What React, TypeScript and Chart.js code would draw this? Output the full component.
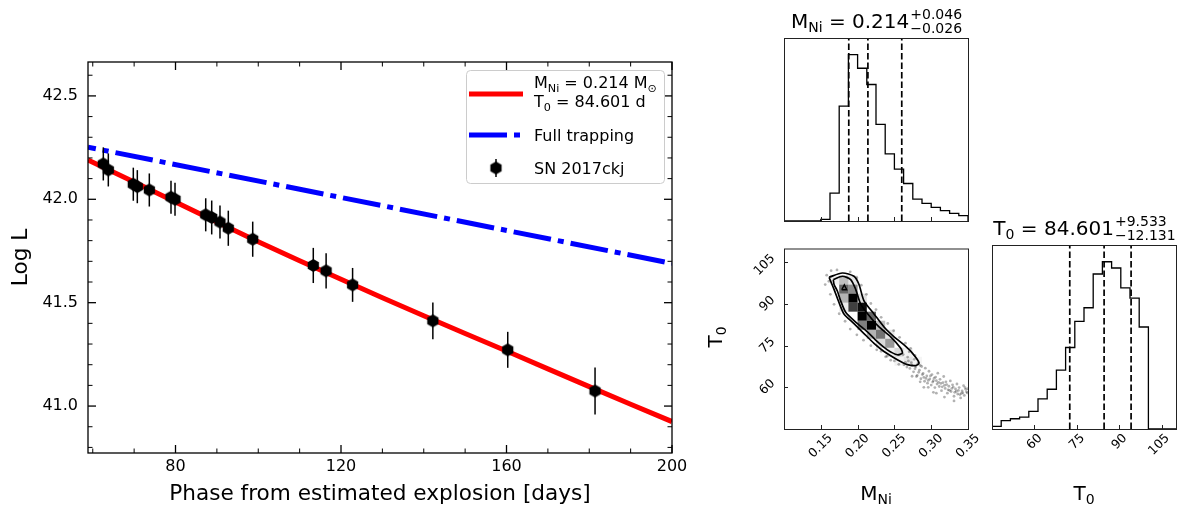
import React, { useEffect, useRef } from "react";
import { Chart, registerables } from "chart.js";

Chart.register(...registerables);

const FONT = "'DejaVu Sans', sans-serif";

/* ---------------- light curve (left panel) ---------------- */
const phaseDays = [62.55, 63.76, 69.8, 70.77, 73.67, 78.91, 79.88, 87.3, 88.75, 90.75, 92.76, 98.66, 113.3, 116.4, 122.8, 142.2, 160.3, 181.4];
const logL = [42.171, 42.142, 42.073, 42.061, 42.045, 42.01, 42.0, 41.925, 41.912, 41.89, 41.86, 41.807, 41.68, 41.654, 41.586, 41.412, 41.272, 41.073];
const logLErr = [0.08, 0.08, 0.08, 0.08, 0.08, 0.08, 0.08, 0.08, 0.082, 0.08, 0.085, 0.085, 0.085, 0.085, 0.082, 0.089, 0.087, 0.114];
const modelPhase = [58.85, 70, 80, 90, 100, 110, 120, 130, 140, 150, 160, 170, 180, 190, 200];
const modelLogL = [42.19, 42.084, 41.987, 41.89, 41.795, 41.703, 41.613, 41.524, 41.437, 41.351, 41.266, 41.18, 41.094, 41.009, 40.925];
const trapPhase = [58.85, 130, 200];
const trapLogL = [42.252, 41.969, 41.69];
const phaseTicks = [80, 120, 160, 200];
const phaseMinorTicks = [60, 70, 90, 100, 110, 130, 140, 150, 170, 180, 190];
const logLTicks = [41.0, 41.5, 42.0, 42.5];
const logLMinorTicks = [40.8, 40.9, 41.1, 41.2, 41.3, 41.4, 41.6, 41.7, 41.8, 41.9, 42.1, 42.2, 42.3, 42.4, 42.6];
const fitMassText = "0.214";
const fitT0Text = "84.601";
const trapLabel = "Full trapping";
const snLabel = "SN 2017ckj";

/* ---------------- corner plot ---------------- */
const mniBinEdges = [0.1, 0.1125, 0.125, 0.1375, 0.15, 0.1625, 0.175, 0.1875, 0.2, 0.2125, 0.225, 0.2375, 0.25, 0.2625, 0.275, 0.2875, 0.3, 0.3125, 0.325, 0.3375, 0.35];
const mniCounts = [0, 0, 0, 0, 5, 84, 346, 501, 460, 411, 291, 202, 156, 113, 66, 53, 41, 31, 23, 16];
const t0BinEdges = [45, 48.25, 51.5, 54.75, 58, 61.25, 64.5, 67.75, 71, 74.25, 77.5, 80.75, 84, 87.25, 90.5, 93.75, 97, 100.25, 103.5, 106.75, 110];
const t0Counts = [8, 25, 31, 36, 53, 91, 120, 178, 246, 325, 366, 468, 505, 486, 426, 395, 308, 0, 0, 0];
const mniQuantiles = [0.188, 0.214, 0.26];
const t0Quantiles = [72.47, 84.601, 94.134];
const mniTicks = [0.15, 0.2, 0.25, 0.3, 0.35];
const t0Ticks = [60, 75, 90, 105];
const mniTitleParts = ["0.214", "+0.046", "\u22120.026"];
const t0TitleParts = ["84.601", "+9.533", "\u221212.131"];

const densityM = [0.16875, 0.18125, 0.19375, 0.18125, 0.19375, 0.18125, 0.19375, 0.20625, 0.18125, 0.19375, 0.20625, 0.20625, 0.21875, 0.20625, 0.21875, 0.23125, 0.21875, 0.23125, 0.24375, 0.23125, 0.24375, 0.24375, 0.25625, 0.26875, 0.25625, 0.26875, 0.28125];
const densityT = [98.625, 98.625, 98.625, 95.375, 95.375, 92.125, 92.125, 92.125, 88.875, 88.875, 88.875, 85.625, 85.625, 82.375, 82.375, 82.375, 79.125, 79.125, 79.125, 75.875, 75.875, 72.625, 72.625, 72.625, 69.375, 69.375, 69.375];
const densityLevel = [0.06, 0.25, 0.1, 0.6, 0.45, 0.3, 1, 0.12, 0.08, 0.75, 0.95, 1, 0.6, 0.5, 1, 0.25, 0.3, 0.55, 0.1, 0.15, 0.4, 0.06, 0.15, 0.05, 0.05, 0.1, 0.04];

const outerM = [0.1612, 0.1793, 0.1951, 0.2019, 0.2087, 0.2223, 0.2359, 0.2495, 0.2631, 0.2744, 0.2835, 0.2789, 0.2676, 0.254, 0.2359, 0.2223, 0.2087, 0.1951, 0.1815, 0.1747, 0.168, 0.1634, 0.1612];
const outerT = [99.64, 101.17, 100.0, 97.05, 91.16, 86.45, 81.74, 78.21, 75.26, 72.32, 68.79, 67.85, 68.2, 69.97, 72.91, 75.85, 79.38, 82.92, 86.45, 90.57, 95.28, 98.23, 99.64];
const innerM = [0.167, 0.1793, 0.1906, 0.1974, 0.2042, 0.2155, 0.2291, 0.245, 0.2586, 0.2608, 0.254, 0.2404, 0.2268, 0.2133, 0.1974, 0.1838, 0.177, 0.1725, 0.168, 0.167];
const innerT = [98.81, 100.0, 98.81, 95.28, 89.98, 85.86, 81.74, 78.21, 74.09, 72.32, 71.73, 73.5, 76.44, 79.97, 83.51, 87.04, 91.16, 94.69, 97.05, 98.81];
const coreM = [0.1784, 0.182, 0.1852, 0.1784];
const coreT = [95.16, 96.93, 95.16, 95.16];

const sampleM = [0.262, 0.265, 0.268, 0.271, 0.273, 0.276, 0.277, 0.279, 0.281, 0.282, 0.284, 0.286, 0.287, 0.289, 0.291, 0.292, 0.294, 0.295, 0.297, 0.298, 0.3, 0.301, 0.303, 0.305, 0.306, 0.308, 0.309, 0.311, 0.312, 0.314, 0.316, 0.317, 0.319, 0.321, 0.322, 0.324, 0.326, 0.327, 0.329, 0.331, 0.333, 0.335, 0.336, 0.338, 0.34, 0.342, 0.344, 0.345, 0.347, 0.349, 0.331, 0.318, 0.303, 0.29, 0.25, 0.256, 0.24, 0.232, 0.27, 0.278, 0.158, 0.161, 0.156, 0.164, 0.172, 0.19, 0.199, 0.205, 0.212, 0.218, 0.225, 0.232, 0.241, 0.249, 0.257, 0.265, 0.272, 0.163, 0.168, 0.175, 0.183, 0.19, 0.199, 0.208, 0.218, 0.226, 0.238, 0.245,
  0.263, 0.267, 0.269, 0.274, 0.278, 0.28, 0.283, 0.285, 0.288, 0.29, 0.293, 0.296, 0.299, 0.302, 0.304, 0.307, 0.31, 0.313, 0.315, 0.318, 0.32, 0.323, 0.325, 0.328, 0.33, 0.332, 0.334, 0.337, 0.339, 0.341, 0.343, 0.346, 0.348, 0.35, 0.296, 0.307, 0.285, 0.274];
const sampleT = [71.8, 69.0, 70.9, 66.8, 68.9, 65.6, 70.1, 67.4, 64.3, 68.6, 66.2, 63.1, 67.5, 65.0, 62.2, 66.9, 64.1, 61.5, 65.8, 63.0, 60.8, 64.6, 62.4, 59.9, 63.7, 61.2, 65.1, 60.3, 62.9, 58.8, 61.7, 63.9, 59.6, 61.0, 57.9, 60.4, 62.3, 58.5, 60.9, 56.8, 59.4, 61.2, 57.6, 59.9, 56.2, 58.7, 60.6, 57.1, 59.3, 58.0, 55.1, 56.5, 58.2, 60.0, 69.5, 68.3, 71.2, 73.0, 72.8, 71.5, 100.4, 98.2, 97.0, 102.0, 102.3, 101.6, 99.5, 96.8, 93.5, 90.2, 88.0, 85.2, 83.0, 80.4, 78.0, 75.9, 74.0, 93.5, 89.9, 86.5, 83.8, 81.0, 78.9, 77.0, 75.0, 73.5, 71.0, 69.8,
  68.1, 67.3, 69.5, 67.9, 66.7, 63.9, 65.4, 67.9, 64.6, 63.6, 63.2, 62.5, 64.1, 61.9, 63.3, 62.4, 61.8, 61.4, 60.2, 60.7, 62.0, 59.1, 58.9, 59.6, 60.1, 58.2, 58.6, 58.9, 57.4, 57.8, 58.0, 59.9, 58.4, 59.5, 60.0, 57.9, 62.0, 64.0];

/* ---------------- helpers ---------------- */
type Run = { t: string; size: number; dy?: number };

function runsWidth(ctx: CanvasRenderingContext2D, runs: Run[]) {
  let w = 0;
  for (const r of runs) {
    ctx.font = `${r.size}px ${FONT}`;
    w += ctx.measureText(r.t).width;
  }
  return w;
}
function drawRuns(ctx: CanvasRenderingContext2D, runs: Run[], x: number, y: number) {
  let cx = x;
  ctx.textAlign = "left";
  ctx.textBaseline = "alphabetic";
  for (const r of runs) {
    ctx.font = `${r.size}px ${FONT}`;
    ctx.fillText(r.t, cx, y + (r.dy || 0));
    cx += ctx.measureText(r.t).width;
  }
  return cx;
}
function drawMathTitle(ctx: CanvasRenderingContext2D, cx: number, baseline: number, name: Run[], parts: string[], size: number) {
  const sub = size * 0.7;
  const pre: Run[] = [...name, { t: " = " + parts[0], size }];
  const preW = runsWidth(ctx, pre);
  ctx.font = `${sub}px ${FONT}`;
  const stackW = Math.max(ctx.measureText(parts[1]).width, ctx.measureText(parts[2]).width);
  let x = cx - (preW + stackW) / 2;
  x = drawRuns(ctx, pre, x, baseline);
  ctx.font = `${sub}px ${FONT}`;
  ctx.fillText(parts[1], x + 1, baseline - size * 0.45);
  ctx.fillText(parts[2], x + 1, baseline + size * 0.26);
}
function hexagonMarker(r: number) {
  const size = Math.ceil(2 * r) + 2;
  const c = document.createElement("canvas");
  c.width = size;
  c.height = size;
  const g = c.getContext("2d")!;
  g.fillStyle = "#000";
  g.beginPath();
  for (let k = 0; k < 6; k++) {
    const a = -Math.PI / 2 + (k * Math.PI) / 3;
    const x = size / 2 + r * Math.cos(a);
    const y = size / 2 + r * Math.sin(a);
    if (k === 0) g.moveTo(x, y);
    else g.lineTo(x, y);
  }
  g.closePath();
  g.fill();
  return c;
}
function seg(ctx: CanvasRenderingContext2D, x1: number, y1: number, x2: number, y2: number, w: number) {
  ctx.lineWidth = w;
  ctx.beginPath();
  ctx.moveTo(x1, y1);
  ctx.lineTo(x2, y2);
  ctx.stroke();
}
const pts = (xs: number[], ys: number[]) => xs.map((x, i) => ({ x, y: ys[i] }));

const baseOptions = {
  animation: false as const,
  responsive: false,
  events: [] as any[],
  plugins: { legend: { display: false }, tooltip: { enabled: false } },
};

/* ---------------- main panel ---------------- */
function makeMain(canvas: HTMLCanvasElement) {
  const hex = hexagonMarker(6.5);
  const decor = {
    id: "mainDecor",
    beforeDatasetDraw(chart: any, args: any) {
      if (args.index !== 0) return;
      const { ctx } = chart;
      const xs = chart.scales.x;
      const ys = chart.scales.y;
      ctx.save();
      ctx.strokeStyle = "#000";
      phaseDays.forEach((p, i) => {
        const x = xs.getPixelForValue(p);
        seg(ctx, x, ys.getPixelForValue(logL[i] - logLErr[i]), x, ys.getPixelForValue(logL[i] + logLErr[i]), 1.5);
      });
      ctx.restore();
    },
    afterDraw(chart: any) {
      const { ctx, chartArea: a } = chart;
      const xs = chart.scales.x;
      const ys = chart.scales.y;
      ctx.save();
      ctx.strokeStyle = "#000";
      for (const v of phaseTicks) {
        const p = xs.getPixelForValue(v);
        seg(ctx, p, a.bottom, p, a.bottom - 8, 1.3);
        seg(ctx, p, a.top, p, a.top + 8, 1.3);
      }
      for (const v of phaseMinorTicks) {
        const p = xs.getPixelForValue(v);
        seg(ctx, p, a.bottom, p, a.bottom - 4.5, 1);
        seg(ctx, p, a.top, p, a.top + 4.5, 1);
      }
      for (const v of logLTicks) {
        const p = ys.getPixelForValue(v);
        seg(ctx, a.left, p, a.left + 8, p, 1.3);
        seg(ctx, a.right, p, a.right - 8, p, 1.3);
      }
      for (const v of logLMinorTicks) {
        const p = ys.getPixelForValue(v);
        seg(ctx, a.left, p, a.left + 4.5, p, 1);
        seg(ctx, a.right, p, a.right - 4.5, p, 1);
      }
      ctx.lineWidth = 1.3;
      ctx.strokeRect(a.left, a.top, a.right - a.left, a.bottom - a.top);

      // legend
      const lx = 466.5, ly = 70.5, lw = 198, lh = 113, rr = 4;
      ctx.beginPath();
      ctx.moveTo(lx + rr, ly);
      ctx.arcTo(lx + lw, ly, lx + lw, ly + lh, rr);
      ctx.arcTo(lx + lw, ly + lh, lx, ly + lh, rr);
      ctx.arcTo(lx, ly + lh, lx, ly, rr);
      ctx.arcTo(lx, ly, lx + lw, ly, rr);
      ctx.closePath();
      ctx.fillStyle = "rgba(255,255,255,0.8)";
      ctx.fill();
      ctx.strokeStyle = "#cccccc";
      ctx.lineWidth = 1;
      ctx.stroke();
      ctx.lineCap = "butt";
      ctx.strokeStyle = "#ff0000";
      seg(ctx, 469, 94, 523, 94, 5);
      ctx.strokeStyle = "#0000ff";
      ctx.setLineDash([38, 7, 6, 7]);
      seg(ctx, 469, 135, 523, 135, 5);
      ctx.setLineDash([]);
      ctx.strokeStyle = "#000";
      seg(ctx, 496, 159, 496, 177, 1.5);
      ctx.drawImage(hex, 496 - hex.width / 2, 168 - hex.height / 2);
      ctx.fillStyle = "#000";
      drawRuns(ctx, [
        { t: "M", size: 16 },
        { t: "Ni", size: 11.2, dy: 3.5 },
        { t: " = " + fitMassText + " M", size: 16 },
        { t: "\u2299", size: 11.2, dy: 3.5 },
      ], 534, 88);
      drawRuns(ctx, [
        { t: "T", size: 16 },
        { t: "0", size: 11.2, dy: 3.5 },
        { t: " = " + fitT0Text + " d", size: 16 },
      ], 534, 107);
      drawRuns(ctx, [{ t: trapLabel, size: 16 }], 534, 141);
      drawRuns(ctx, [{ t: snLabel, size: 16 }], 534, 174);
      ctx.restore();
    },
  };
  return new Chart(canvas, {
    type: "scatter",
    data: {
      datasets: [
        { label: snLabel, data: pts(phaseDays, logL), pointStyle: hex as any, pointRadius: 6.5, order: 0 },
        { label: "model", data: pts(modelPhase, modelLogL), showLine: true, borderColor: "#ff0000", borderWidth: 5, pointRadius: 0, clip: 0, order: 1 },
        { label: trapLabel, data: pts(trapPhase, trapLogL), showLine: true, borderColor: "#0000ff", borderWidth: 5, borderDash: [38, 7, 6, 7], borderDashOffset: 30, borderCapStyle: "butt", pointRadius: 0, clip: 0, order: 2 },
      ] as any,
    },
    options: {
      ...baseOptions,
      layout: { padding: { top: 62, right: 28, left: 0, bottom: 0 } },
      scales: {
        x: {
          type: "linear", position: "bottom", min: 58.85, max: 200,
          afterBuildTicks: (s: any) => { s.ticks = phaseTicks.map((v) => ({ value: v })); },
          afterFit: (s: any) => { s.height = 57; },
          grid: { display: false, drawTicks: false }, border: { display: false },
          ticks: { color: "#000", font: { family: FONT, size: 16 }, padding: 4, maxRotation: 0, minRotation: 0, autoSkip: false, callback: (v: any) => String(v) },
          title: { display: true, text: "Phase from estimated explosion [days]", color: "#000", font: { family: FONT, size: 21.6 }, padding: { top: 0, bottom: 3 } },
        },
        y: {
          type: "linear", min: 40.773, max: 42.664,
          afterBuildTicks: (s: any) => { s.ticks = logLTicks.map((v) => ({ value: v })); },
          afterFit: (s: any) => { s.width = 88; },
          grid: { display: false, drawTicks: false }, border: { display: false },
          ticks: { color: "#000", font: { family: FONT, size: 16 }, padding: 10, autoSkip: false, callback: (v: any) => Number(v).toFixed(1) },
          title: { display: true, text: "Log L", color: "#000", font: { family: FONT, size: 21.6 }, padding: { top: 8, bottom: 0 } },
        },
      },
    } as any,
    plugins: [decor],
  });
}

/* ---------------- corner panels ---------------- */
type CornerCfg = {
  xTicks?: number[];
  yTicks?: number[];
  title?: { name: Run[]; parts: string[]; cx: number; baseline: number };
  xLabel?: { runs: Run[]; cx: number; baseline: number };
  yLabel?: { runs: Run[]; x: number; cy: number };
};
function cornerDecor(cfg: CornerCfg) {
  return {
    id: "cornerDecor",
    afterDraw(chart: any) {
      const { ctx, chartArea: a } = chart;
      const xs = chart.scales.x;
      const ys = chart.scales.y;
      ctx.save();
      ctx.strokeStyle = "#222";
      (cfg.xTicks || []).forEach((v) => {
        const p = Math.round(xs.getPixelForValue(v)) + 0.5;
        seg(ctx, p, a.bottom, p, a.bottom - 4, 1);
      });
      (cfg.yTicks || []).forEach((v) => {
        const p = Math.round(ys.getPixelForValue(v)) + 0.5;
        seg(ctx, a.left, p, a.left + 4, p, 1);
      });
      ctx.lineWidth = 1;
      ctx.strokeRect(a.left + 0.5, a.top + 0.5, a.right - a.left, a.bottom - a.top);
      ctx.fillStyle = "#000";
      if (cfg.title) drawMathTitle(ctx, cfg.title.cx, cfg.title.baseline, cfg.title.name, cfg.title.parts, 20);
      if (cfg.xLabel) {
        const w = runsWidth(ctx, cfg.xLabel.runs);
        drawRuns(ctx, cfg.xLabel.runs, cfg.xLabel.cx - w / 2, cfg.xLabel.baseline);
      }
      if (cfg.yLabel) {
        const w = runsWidth(ctx, cfg.yLabel.runs);
        ctx.translate(cfg.yLabel.x, cfg.yLabel.cy);
        ctx.rotate(-Math.PI / 2);
        drawRuns(ctx, cfg.yLabel.runs, -w / 2, 0);
      }
      ctx.restore();
    },
  };
}

const mniName: Run[] = [{ t: "M", size: 20 }, { t: "Ni", size: 14, dy: 4 }];
const t0Name: Run[] = [{ t: "T", size: 20 }, { t: "0", size: 14, dy: 4 }];

function histDatasets(edges: number[], counts: number[], quantiles: number[], yMax: number) {
  const stepData = [{ x: edges[0], y: 0 }];
  counts.forEach((c, k) => stepData.push({ x: edges[k], y: c }));
  stepData.push({ x: edges[edges.length - 1], y: counts[counts.length - 1] });
  stepData.push({ x: edges[edges.length - 1], y: 0 });
  const ds: any[] = [
    { data: stepData, showLine: true, stepped: true, borderColor: "#000", borderWidth: 1.3, pointRadius: 0, clip: 0, order: 1 },
  ];
  quantiles.forEach((q) => {
    ds.push({ data: [{ x: q, y: 0 }, { x: q, y: yMax }], showLine: true, borderColor: "#000", borderWidth: 1.7, borderDash: [6.5, 3], pointRadius: 0, clip: 0, order: 0 });
  });
  return ds;
}

const cornerTickFont = 12.5;

function makeMniHist(canvas: HTMLCanvasElement) {
  const yMax = Math.max(...mniCounts) * 1.1;
  return new Chart(canvas, {
    type: "scatter",
    data: { datasets: histDatasets(mniBinEdges, mniCounts, mniQuantiles, yMax) },
    options: {
      ...baseOptions,
      layout: { padding: { left: 44, top: 38, right: 12, bottom: 9 } },
      scales: {
        x: { type: "linear", min: mniBinEdges[0], max: mniBinEdges[mniBinEdges.length - 1], display: false },
        y: { type: "linear", min: 0, max: yMax, display: false },
      },
    } as any,
    plugins: [cornerDecor({ xTicks: mniTicks, title: { name: mniName, parts: mniTitleParts, cx: 136, baseline: 28 } })],
  });
}

function makeT0Hist(canvas: HTMLCanvasElement) {
  const yMax = Math.max(...t0Counts) * 1.1;
  return new Chart(canvas, {
    type: "scatter",
    data: { datasets: histDatasets(t0BinEdges, t0Counts, t0Quantiles, yMax) },
    options: {
      ...baseOptions,
      layout: { padding: { left: 12, top: 45, right: 4, bottom: 0 } },
      scales: {
        x: {
          type: "linear", min: t0BinEdges[0], max: t0BinEdges[t0BinEdges.length - 1],
          afterBuildTicks: (s: any) => { s.ticks = t0Ticks.map((v) => ({ value: v })); },
          afterFit: (s: any) => { s.height = 81; },
          grid: { display: false, drawTicks: false }, border: { display: false },
          ticks: { color: "#000", font: { family: FONT, size: cornerTickFont }, padding: 2, minRotation: 45, maxRotation: 45, labelOffset: 5.8, autoSkip: false, callback: (v: any) => String(v) },
        },
        y: { type: "linear", min: 0, max: yMax, display: false },
      },
    } as any,
    plugins: [cornerDecor({ xTicks: t0Ticks, title: { name: t0Name, parts: t0TitleParts, cx: 104, baseline: 35 }, xLabel: { runs: t0Name, cx: 104, baseline: 300 } })],
  });
}

function make2D(canvas: HTMLCanvasElement) {
  const density = {
    id: "density",
    afterDatasetDraw(chart: any, args: any) {
      if (args.index !== 0) return;
      const { ctx } = chart;
      const xs = chart.scales.x;
      const ys = chart.scales.y;
      const hw = (mniBinEdges[1] - mniBinEdges[0]) / 2;
      const hh = (t0BinEdges[1] - t0BinEdges[0]) / 2;
      ctx.save();
      densityM.forEach((m, i) => {
        const x0 = xs.getPixelForValue(m - hw);
        const x1 = xs.getPixelForValue(m + hw);
        const y0 = ys.getPixelForValue(densityT[i] + hh);
        const y1 = ys.getPixelForValue(densityT[i] - hh);
        ctx.fillStyle = `rgba(0,0,0,${densityLevel[i]})`;
        ctx.fillRect(x0, y0, x1 - x0, y1 - y0);
      });
      ctx.restore();
    },
  };
  return new Chart(canvas, {
    type: "scatter",
    data: {
      datasets: [
        { data: pts(sampleM, sampleT), pointRadius: 1.4, pointBackgroundColor: "rgba(0,0,0,0.3)", pointBorderWidth: 0, order: 10 },
        { data: pts(outerM, outerT), showLine: true, borderColor: "#000", borderWidth: 1.7, pointRadius: 0, tension: 0.25, order: 3 },
        { data: pts(innerM, innerT), showLine: true, borderColor: "#000", borderWidth: 1.7, pointRadius: 0, tension: 0.25, order: 2 },
        { data: pts(coreM, coreT), showLine: true, borderColor: "#000", borderWidth: 1.4, pointRadius: 0, order: 1 },
      ] as any,
    },
    options: {
      ...baseOptions,
      layout: { padding: { left: 0, top: 15, right: 22, bottom: 0 } },
      scales: {
        x: {
          type: "linear", min: 0.1, max: 0.35,
          afterBuildTicks: (s: any) => { s.ticks = mniTicks.map((v) => ({ value: v })); },
          afterFit: (s: any) => { s.height = 81; },
          grid: { display: false, drawTicks: false }, border: { display: false },
          ticks: { color: "#000", font: { family: FONT, size: cornerTickFont }, padding: 2, minRotation: 45, maxRotation: 45, labelOffset: 9.8, autoSkip: false, callback: (v: any) => Number(v).toFixed(2) },
        },
        y: {
          type: "linear", min: 45, max: 110,
          afterBuildTicks: (s: any) => { s.ticks = t0Ticks.map((v) => ({ value: v })); },
          afterFit: (s: any) => { s.width = 84; },
          grid: { display: false, drawTicks: false }, border: { display: false },
          ticks: { color: "#000", font: { family: FONT, size: cornerTickFont }, padding: 11, minRotation: 45, maxRotation: 45, labelOffset: -5.8, autoSkip: false, callback: (v: any) => String(v) },
        },
      },
    } as any,
    plugins: [density, cornerDecor({ xTicks: mniTicks, yTicks: t0Ticks, xLabel: { runs: mniName, cx: 176, baseline: 270 }, yLabel: { runs: t0Name, x: 22, cy: 107 } })],
  });
}

/* ---------------- components ---------------- */
function ChartCanvas(props: { left: number; top: number; width: number; height: number; make: (c: HTMLCanvasElement) => Chart }) {
  const ref = useRef<HTMLCanvasElement>(null);
  useEffect(() => {
    const chart = props.make(ref.current!);
    return () => chart.destroy();
  }, []);
  return (
    <canvas
      ref={ref}
      width={props.width}
      height={props.height}
      style={{ position: "absolute", left: props.left, top: props.top, width: props.width, height: props.height }}
    />
  );
}

export default function App() {
  return (
    <div style={{ position: "absolute", left: 0, top: 0, width: 1180, height: 510, background: "#fff", overflow: "hidden" }}>
      <ChartCanvas left={0} top={0} width={700} height={510} make={makeMain} />
      <ChartCanvas left={740} top={0} width={240} height={230} make={makeMniHist} />
      <ChartCanvas left={700} top={230} width={290} height={280} make={make2D} />
      <ChartCanvas left={980} top={200} width={200} height={310} make={makeT0Hist} />
    </div>
  );
}
